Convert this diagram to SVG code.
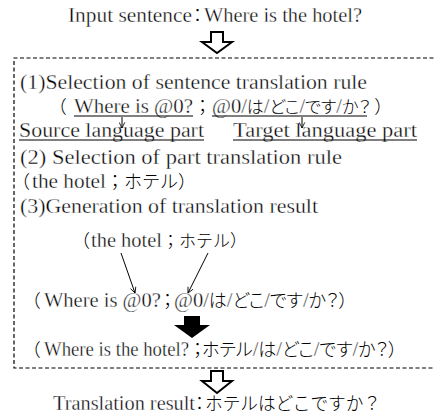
<svg xmlns="http://www.w3.org/2000/svg" width="435" height="414" viewBox="0 0 435 414">
<defs>
<style>
text{font-family:"Liberation Serif",serif;font-size:20.5px;fill:#000;stroke:#fff;stroke-width:0.35px}
.p{font-family:"Noto Sans CJK JP",sans-serif;font-size:18px;font-feature-settings:"palt" 1;font-weight:300;stroke:none}
.f{font-family:"Noto Sans CJK JP",sans-serif;font-size:18px;font-weight:300;stroke:none}
.s{font-size:17px}
.ul{stroke:#000;stroke-width:1}
.ln{stroke:#000;stroke-width:1;fill:none}
.wa{fill:#fff;stroke:#000;stroke-width:2;stroke-linejoin:miter}
</style>
<marker id="v" viewBox="0 0 10 10" refX="9" refY="5" markerWidth="7" markerHeight="7" orient="auto" markerUnits="userSpaceOnUse">
<path d="M1,1 L9,5 L1,9" fill="none" stroke="#000" stroke-width="1.2"/>
</marker>
</defs>
<rect width="435" height="414" fill="#fff"/>
<g id="input">
<text x="68" y="22" textLength="124" lengthAdjust="spacingAndGlyphs">Input sentence</text>
<text class="p" x="193" y="22">：</text>
<text x="204" y="22" textLength="158" lengthAdjust="spacingAndGlyphs">Where is the hotel?</text>
</g>
<g id="frame"><path d="M440,58 H14 V368 H440" fill="none" stroke="#000" stroke-width="1.2" stroke-dasharray="4 2.5"/></g>
<g id="step1">
<text x="20" y="89" textLength="347" lengthAdjust="spacingAndGlyphs">(1)Selection of sentence translation rule</text>
<text class="p" x="57" y="113">（</text>
<text x="74" y="113" textLength="119" lengthAdjust="spacingAndGlyphs">Where is @0?</text>
<text class="p" x="198" y="113">；</text>
<text x="212" y="113">@0/<tspan class="p s">は</tspan>/<tspan class="p s">どこ</tspan>/<tspan class="p s">です</tspan>/<tspan class="p s">か？</tspan></text>
<text class="p" x="375" y="113">）</text>
<line class="ul" x1="74" y1="116" x2="193" y2="116"/>
<line class="ul" x1="212" y1="116" x2="367" y2="116"/>
<text x="19" y="137" textLength="185" lengthAdjust="spacingAndGlyphs">Source language part</text>
<text x="233" y="137" textLength="184" lengthAdjust="spacingAndGlyphs">Target language part</text>
<line class="ul" x1="19" y1="140" x2="204" y2="140"/>
<line class="ul" x1="233" y1="140" x2="417" y2="140"/>
</g>
<g id="step2">
<text x="20" y="164" textLength="322" lengthAdjust="spacingAndGlyphs">(2) Selection of part translation rule</text>
<text x="12" y="188"><tspan class="f">（</tspan><tspan x="32" textLength="74" lengthAdjust="spacingAndGlyphs">the hotel</tspan><tspan class="f" x="106">；ホテル）</tspan></text>
</g>
<g id="step3">
<text x="20" y="213" textLength="298" lengthAdjust="spacingAndGlyphs">(3)Generation of translation result</text>
<text x="72" y="247"><tspan class="f">（</tspan><tspan x="91" textLength="71" lengthAdjust="spacingAndGlyphs">the hotel</tspan><tspan class="f s" x="162">；ホテル）</tspan></text>
<text x="31" y="307"><tspan class="p">（</tspan><tspan x="44">Where is @0?</tspan><tspan class="p" x="163">；</tspan><tspan x="174">@0/</tspan><tspan class="p">は</tspan>/<tspan class="p">どこ</tspan>/<tspan class="p">です</tspan>/<tspan class="p">か？）</tspan></text>
<text x="31" y="356"><tspan class="p">（</tspan><tspan x="44" textLength="145" lengthAdjust="spacingAndGlyphs">Where is the hotel?</tspan><tspan class="p" x="193">；ホテル</tspan>/<tspan class="p">は</tspan>/<tspan class="p">どこ</tspan>/<tspan class="p">です</tspan>/<tspan class="p">か？）</tspan></text>
</g>
<g id="result">
<text x="53" y="410" textLength="142" lengthAdjust="spacingAndGlyphs">Translation result</text>
<text class="p" x="195" y="410">：</text>
<text class="f" x="205" y="410" font-size="19" textLength="176" lengthAdjust="spacingAndGlyphs">ホテルはどこですか？</text>
</g>
<g id="connectors">
<line class="ln" x1="122" y1="117" x2="122" y2="128" marker-end="url(#v)"/>
<line class="ln" x1="302" y1="117" x2="302" y2="128" marker-end="url(#v)"/>
<line class="ln" x1="121" y1="253" x2="135" y2="293" marker-end="url(#v)"/>
<line class="ln" x1="208" y1="253" x2="188" y2="293" marker-end="url(#v)"/>
<path class="wa" d="M211,32 H223 V42 H232 L217,53 L202,42 H211 Z"/>
<path class="wa" d="M211,371 H223 V381 H232 L217,393 L202,381 H211 Z"/>
<path d="M184,316 H200 V325 H210 L192,338 L174,325 H184 Z" fill="#000"/>
</g>
</svg>
